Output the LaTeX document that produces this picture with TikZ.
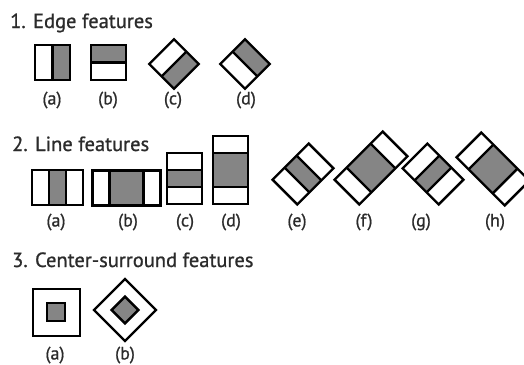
\documentclass[tikz,border=0pt]{standalone}
\usepackage{fontspec}
\setmainfont{PT Sans}
\newfontfamily\featfont{PT Sans}[FakeBold=0.9]
\usepackage{tikz}
\usetikzlibrary{positioning,calc}
\definecolor{featgray}{HTML}{858585}
\definecolor{ink}{HTML}{2b2b2b}
\tikzstyle{feat}=[draw=black,line width=2.4pt]
\tikzstyle{band}=[fill=featgray]
\tikzstyle{title}=[anchor=base west,inner sep=0pt,text=ink,font=\featfont\fontsize{20.5}{22}\selectfont]
\tikzstyle{lab}=[inner sep=0pt,text=ink,font=\featfont\fontsize{18}{20}\selectfont]

\begin{document}
\begin{tikzpicture}[x=1pt,y=-1pt]
  \useasboundingbox (0,0) rectangle (524,364);
%
  \node[title] (t1) at (10,28) {1. Edge features};
  \fill[band] (52.5,45) rectangle (70,80);
  \draw[feat] (52.5,45) -- (52.5,80);
  \draw[feat] (35,45) rectangle (70,80);
  \fill[band] (91,45) rectangle (126,62.5);
  \draw[feat] (91,62.5) -- (126,62.5);
  \draw[feat] (91,45) rectangle (126,80);
  \begin{scope}[shift={(174,64)},rotate=45]
    \fill[band] (-17.5,0) rectangle (17.5,17.5);
    \draw[feat] (-17.5,0) -- (17.5,0);
    \draw[feat] (-17.5,-17.5) rectangle (17.5,17.5);
  \end{scope}
  \begin{scope}[shift={(245,64)},rotate=45]
    \fill[band] (0,-17.5) rectangle (17.5,17.5);
    \draw[feat] (0,-17.5) -- (0,17.5);
    \draw[feat] (-17.5,-17.5) rectangle (17.5,17.5);
  \end{scope}
  \node[lab] (ea) at (52,100) {(a)};
  \node[lab] (eb) at (108,100) {(b)};
  \node[lab] (ec) at (173,100) {(c)};
  \node[lab] (ed) at (246,100) {(d)};
%
  \node[title] (t2) at (12,151) {2. Line features};
  \foreach \cx/\cy/\ang/\hl/\hg in {57.5/187.5/0/25.5/8.5, 126.5/188/0/34/17,
      184.5/178.5/90/25.5/8.5, 230.5/170/90/34/17, 303/174/45/25.5/8.5,
      371/168/45/34/17, 433/174/-45/25.5/8.5, 493/169/-45/34/17}
  {
    \begin{scope}[shift={(\cx,\cy)},rotate=\ang]
      \fill[band] (-\hg,-17.5) rectangle (\hg,17.5);
      \draw[feat] (-\hg,-17.5) -- (-\hg,17.5) (\hg,-17.5) -- (\hg,17.5);
      \draw[feat] (-\hl,-17.5) rectangle (\hl,17.5);
    \end{scope}
  }
  \node[lab] (la) at (56,222) {(a)};
  \node[lab] (lb) at (128,222) {(b)};
  \node[lab] (lc) at (185,222) {(c)};
  \node[lab] (ld) at (231,222) {(d)};
  \node[lab] (le) at (297,222) {(e)};
  \node[lab] (lf) at (364,222) {(f)};
  \node[lab] (lg) at (421,222) {(g)};
  \node[lab] (lh) at (495,222) {(h)};
%
  \node[title] (t3) at (12,267) {3. Center-surround features};
  \draw[feat] (33,289) rectangle (80,336);
  \draw[feat,band] (47,303) rectangle (65,321);
  \begin{scope}[shift={(125,310)},rotate=45]
    \draw[feat] (-21.9,-21.9) rectangle (21.9,21.9);
    \draw[feat,band] (-9.5,-9.5) rectangle (9.5,9.5);
  \end{scope}
  \node[lab] (ca) at (55,355) {(a)};
  \node[lab] (cb) at (125,355) {(b)};
\end{tikzpicture}
\end{document}
